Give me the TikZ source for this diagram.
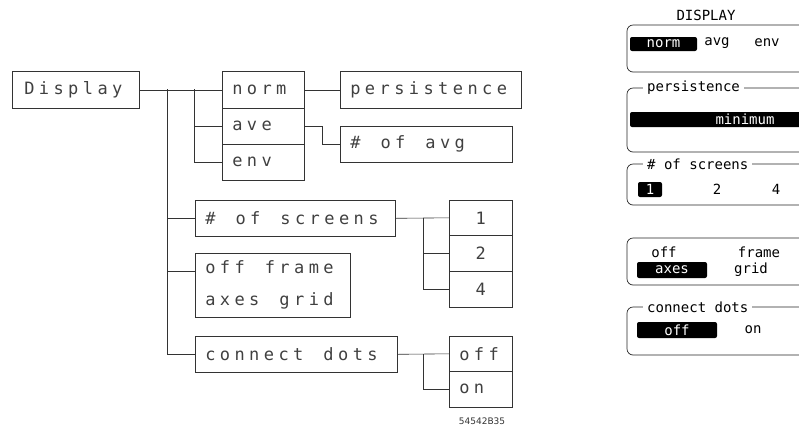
\documentclass[tikz,border=0pt]{standalone}
\usepackage{fontspec}
\setmainfont{DejaVu Sans}
\newfontfamily\plotfont[LetterSpace=26]{DejaVu Sans Mono}
\newfontfamily\lcdfont{DejaVu Sans Mono}
\newcommand{\sgap}{\hspace*{20pt}}
\begin{document}
\begin{tikzpicture}[x=1pt,y=-1pt,
  box/.style={draw=black!80, line width=0.6pt, inner xsep=10pt, inner ysep=0pt, align=left,
    anchor=north west, font=\fontsize{17}{32}\plotfont, text=black!75},
  wire/.style={draw=black!80, line width=0.6pt},
  panel/.style={draw=black!85, line width=0.7pt, rounded corners=6pt},
  lcd/.style={font=\fontsize{14}{16}\lcdfont, text=black, inner sep=0pt},
  ptitle/.style={lcd, fill=white, inner xsep=4pt, inner ysep=1pt, anchor=west},
  hl/.style={fill=black, rounded corners=2pt},
  hltext/.style={lcd, text=white}]
\useasboundingbox (0,0) rectangle (799,440);
\clip (0,0) rectangle (799,440);
% ---- left tree ----
\node[box, minimum height=37pt, text width=107pt] (disp) at (12,71) {\hspace*{2pt}Display};
\node[box, minimum height=37pt, text width=62pt] (norm) at (222,71) {norm};
\node[box, minimum height=36pt, text width=62pt] (ave) at (222,108) {ave};
\node[box, minimum height=36pt, text width=62pt] (env) at (222,144) {env};
\node[box, minimum height=37pt, text width=161pt] (pers) at (340,71) {persistence};
\node[box, minimum height=36pt, text width=152pt] (avg) at (340,126) {\#\sgap of\sgap avg};
\node[box, minimum height=36pt, text width=180pt] (scr) at (195,200) {\#\sgap of\sgap screens};
\node[box, minimum height=64pt, text width=135pt] (ofb) at (195,253) {off\sgap frame\\axes\sgap grid};
\node[box, minimum height=36pt, text width=182pt] (cd) at (195,336) {connect\sgap dots};
\node[box, minimum height=35pt, text width=43pt, align=center] (b1) at (449,200) {1};
\node[box, minimum height=36pt, text width=43pt, align=center] (b2) at (449,235) {2};
\node[box, minimum height=36pt, text width=43pt, align=center] (b4) at (449,271) {4};
\node[box, minimum height=35pt, text width=43pt] (bo) at (449,336) {off};
\node[box, minimum height=36pt, text width=43pt] (bn) at (449,371) {on};
\coordinate (j1) at (167,89);
\coordinate (j2) at (194,89);
\coordinate (j3) at (167,271);
\coordinate (j4) at (423,218);
\coordinate (j5) at (423,354);
\draw[wire] (disp.east) -- (norm.west);
\draw[wire] (j1) |- (cd.west);
\draw[wire] (j1 |- scr.west) -- (scr.west);
\draw[wire] (j3) -- (ofb.west |- j3);
\draw[wire] (j2) |- (env.west);
\draw[wire] (j2 |- ave.west) -- (ave.west);
\draw[wire] (norm.east) -- (pers.west);
\draw[wire] (ave.east) -- ++(18,0) |- (avg.west);
\draw[wire] (scr.east) -- (b1.west);
\draw[wire] (j4) |- (b4.west);
\draw[wire] (j4 |- b2.west) -- (b2.west);
\draw[wire] (cd.east) -- (bo.west);
\draw[wire] (j5) |- (bn.west);
\node[font=\fontsize{9}{10}\selectfont, text=black!80] (code) at (482,421) {54542B35};
% ---- right panel ----
\node[lcd] (dtitle) at (706,15) {DISPLAY};
\draw[panel] (627,25) rectangle (850,72);
\fill[hl] (630,37) rectangle (697,51);
\node[hltext] (tnorm) at (663.5,44) {norm};
\node[lcd] (tavg) at (717,43) {avg};
\node[lcd] (tenv) at (767,43) {env};
\draw[panel] (627,88) rectangle (850,152);
\node[ptitle] (tpers) at (643,88) {persistence};
\fill[hl] (630,112) rectangle (850,127);
\node[hltext] (tmin) at (745,119) {minimum};
\draw[panel] (627,164) rectangle (850,205);
\node[ptitle] (tscr) at (643,164) {\# of screens};
\fill[hl] (638,182) rectangle (662,197);
\node[hltext] (t1) at (650,189) {1};
\node[lcd] (t2) at (717,189) {2};
\node[lcd] (t4) at (776,189) {4};
\draw[panel] (627,238) rectangle (850,285);
\node[lcd] (toff) at (664,252) {off};
\node[lcd] (tframe) at (759,252) {frame};
\fill[hl] (637,262) rectangle (707,278);
\node[hltext] (taxes) at (672,270) {axes};
\node[lcd] (tgrid) at (751,270) {grid};
\draw[panel] (627,307) rectangle (850,355);
\node[ptitle] (tcd) at (643,307) {connect dots};
\fill[hl] (637,322) rectangle (717,338);
\node[hltext] (toff2) at (677,330) {off};
\node[lcd] (ton) at (753,330) {on};
\end{tikzpicture}
\end{document}
